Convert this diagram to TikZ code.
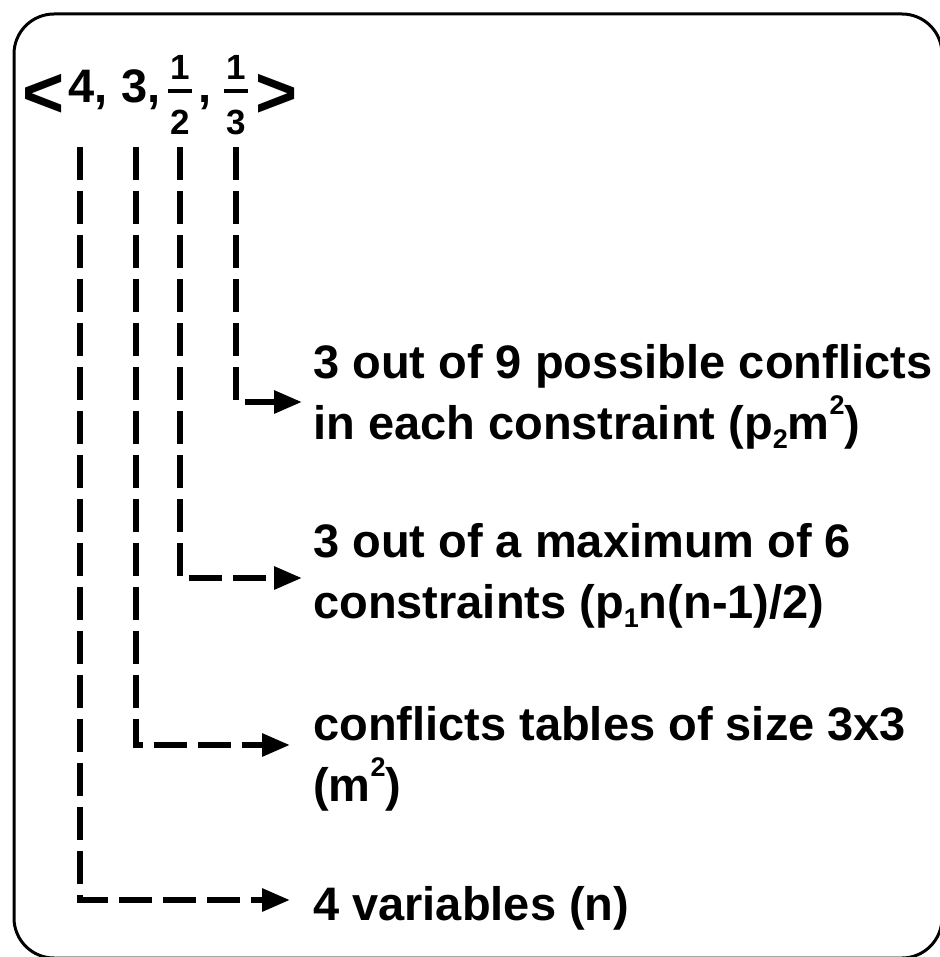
\documentclass[tikz,border=0pt]{standalone}
\usepackage{fontspec}
\setmainfont{Liberation Sans}
\usetikzlibrary{arrows.meta}
% raised and lowered indices for the labels
\newcommand{\supidx}[1]{\raisebox{0.52em}{\fontsize{27}{27}\selectfont #1}}
\newcommand{\subidx}[1]{\raisebox{-0.2em}{\fontsize{27}{27}\selectfont #1}}
\tikzset{
  frame/.style={line width=3pt, rounded corners=40pt},
  leader/.style={line width=6pt, dash pattern=on 33pt off 11pt,
    -{Triangle[length=28pt,width=22pt]}},
  label/.style={anchor=base west, inner sep=0pt, align=left,
    font=\fontsize{47}{61}\selectfont\bfseries},
  big/.style={inner sep=0pt, font=\fontsize{47}{47}\selectfont\bfseries},
  angle/.style={inner sep=0pt, font=\fontsize{72}{72}\selectfont\bfseries},
  small/.style={anchor=base, inner sep=0pt, font=\fontsize{35}{35}\selectfont\bfseries},
  fracbar/.style={line width=4pt}
}
\begin{document}
\begin{tikzpicture}[x=1pt,y=-1pt]
\useasboundingbox (0,0) rectangle (939,957);

% outer frame
\draw[frame] (14,14) rectangle (942,958);

% the tuple
\node[angle] (lt) at (44,96) {<};
\node[big, anchor=base west] (v4) at (68,103) {4,};
\node[big, anchor=base west] (v3) at (121,103) {3,};
\node[small] (p1n) at (180,80) {1};
\draw[fracbar] (168,91) -- (192,91);
\node[small] (p1d) at (180,135) {2};
\node[big, anchor=base] (cm) at (205,103) {,};
\node[small] (p2n) at (236,80) {1};
\draw[fracbar] (224,91) -- (248,91);
\node[small] (p2d) at (236,135) {3};
\node[angle] (gt) at (277,96) {>};

% explanations (anchored at the baseline of the last line)
\node[label] (t1) at (313,439) {3 out of 9 possible conflicts\\in each constraint (p\subidx{2}m\supidx{2})};
\node[label] (t2) at (313,618) {3 out of a maximum of 6\\constraints (p\subidx{1}n(n-1)/2)};
\node[label] (t3) at (313,801) {conflicts tables of size 3x3\\(m\supidx{2})};
\node[label] (t4) at (313,920) {4 variables (n)};

% leader start and end points
\coordinate (s1) at (236,147);
\coordinate (s2) at (180,147);
\coordinate (s3) at (136,147);
\coordinate (s4) at (80,147);
\coordinate (e1) at (302,402);
\coordinate (e2) at (302,578);
\coordinate (e3) at (290,745);
\coordinate (e4) at (290,900);

\draw[leader] (s1) |- (e1);
\draw[leader] (s2) |- (e2);
\draw[leader] (s3) |- (e3);
\draw[leader] (s4) |- (e4);
\end{tikzpicture}
\end{document}
